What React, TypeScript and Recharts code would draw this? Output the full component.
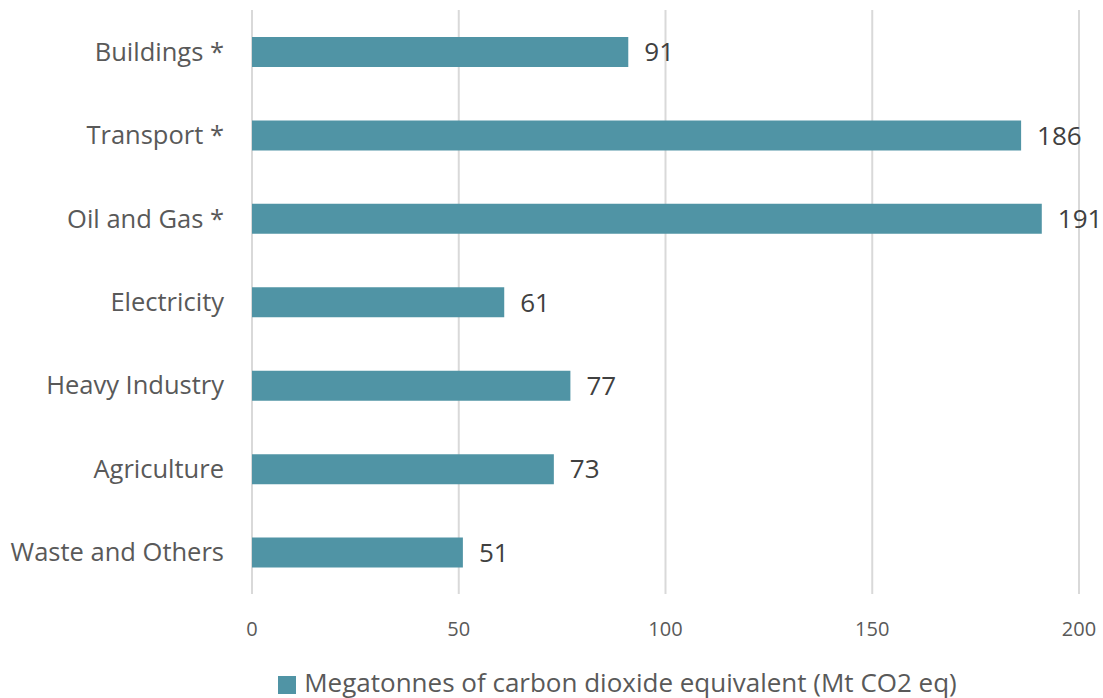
import { BarChart, Bar, XAxis, YAxis, CartesianGrid, Legend, LabelList } from 'recharts'

const sectors = ['Buildings *', 'Transport *', 'Oil and Gas *', 'Electricity', 'Heavy Industry', 'Agriculture', 'Waste and Others']
const emissions = [91, 186, 191, 61, 77, 73, 51]
const xTicks = [0, 50, 100, 150, 200]
const seriesName = 'Megatonnes of carbon dioxide equivalent (Mt CO2 eq)'

const data = sectors.map((s, i) => ({ sector: s, value: emissions[i] }))

const font = '"Open Sans", sans-serif'

export default function App() {
  return (
    <div style={{ position: 'absolute', left: 0, top: 0, width: 1103, height: 698, background: '#fff', fontFamily: font }}>
      <BarChart
        width={1103}
        height={698}
        data={data}
        layout="vertical"
        margin={{ top: 10, right: 24, bottom: 0, left: 0 }}
      >
        <CartesianGrid horizontal={false} stroke="#d9d9d9" strokeWidth={2} />
        <XAxis
          type="number"
          domain={[0, 200]}
          ticks={xTicks}
          axisLine={false}
          tickLine={false}
          tickSize={0}
          tickMargin={28}
          height={72}
          tick={{ fontSize: 20, fill: '#595959', fontFamily: font }}
        />
        <YAxis
          type="category"
          dataKey="sector"
          width={252}
          axisLine={false}
          tickLine={false}
          tickSize={0}
          tickMargin={28}
          tick={{ fontSize: 25.5, fill: '#595959', fontFamily: font }}
        />
        <Legend
          verticalAlign="bottom"
          iconType="square"
          iconSize={18}
          wrapperStyle={{ fontSize: 26, fontFamily: font, color: '#595959', lineHeight: '32px', paddingLeft: 166, boxSizing: 'border-box' }}
          formatter={(v) => <span style={{ color: '#595959', marginLeft: 4 }}>{v}</span>}
        />
        <Bar dataKey="value" name={seriesName} fill="#5094a5" barSize={30} isAnimationActive={false}>
          <LabelList dataKey="value" position="right" offset={16} fill="#404040" fontSize={26} fontFamily={font} />
        </Bar>
      </BarChart>
    </div>
  )
}
